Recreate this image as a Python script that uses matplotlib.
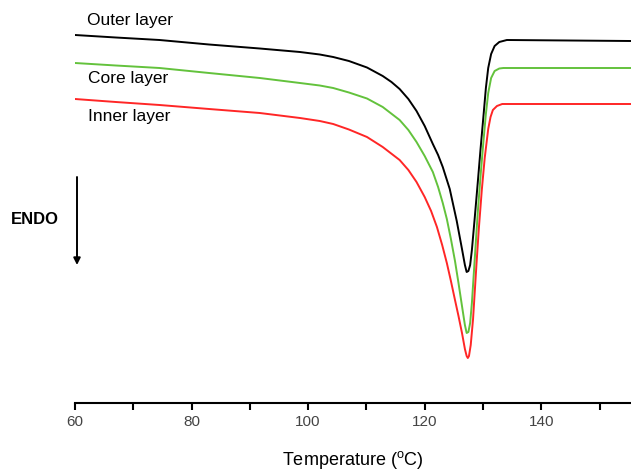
import matplotlib
matplotlib.use("Agg")
import matplotlib.pyplot as plt
from matplotlib.ticker import MultipleLocator

plt.rcParams['font.family'] = ['Liberation Sans', 'DejaVu Sans']

# Temperature (deg C) and heat flow (a.u.)
t_outer = [60.0, 67.0, 74.5, 83.0, 91.7, 98.6, 102.0, 104.3, 107.0, 110.1, 112.8,
           114.3, 115.7, 117.2, 118.6, 120.0, 121.4, 122.3, 123.1, 124.3, 125.5,
           126.4, 126.9, 127.2, 127.5, 127.8, 128.1, 128.6, 129.1, 129.6, 130.1,
           130.5, 130.9, 131.4, 132.0, 132.8, 134.1, 155.4]
v_outer = [36.8, 36.55, 36.3, 35.85, 35.45, 35.1, 34.85, 34.6, 34.2, 33.55, 32.7,
           32.1, 31.4, 30.4, 29.2, 27.7, 25.9, 24.8, 23.6, 21.4, 18.2,
           15.4, 13.8, 13.1, 13.2, 13.8, 15.3, 18.6, 22.0, 25.5, 28.8,
           31.5, 33.5, 34.9, 35.7, 36.1, 36.3, 36.2]

t_core = [60.0, 67.0, 74.5, 83.0, 91.7, 98.6, 102.0, 104.3, 107.0, 110.1, 112.8,
          115.7, 117.2, 118.6, 120.0, 121.4, 122.3, 123.1, 123.8, 124.5, 125.2,
          125.8, 126.4, 126.9, 127.2, 127.5, 127.8, 128.1, 128.6, 129.1, 129.6,
          130.1, 130.5, 130.9, 131.4, 132.0, 132.8, 133.5, 155.4]
v_core = [34.0, 33.75, 33.5, 33.0, 32.5, 32.0, 31.75, 31.5, 31.05, 30.45, 29.6,
          28.3, 27.3, 26.1, 24.7, 23.1, 21.6, 20.0, 18.4, 16.4, 14.2,
          12.0, 9.7, 7.8, 7.0, 7.1, 8.0, 10.0, 14.5, 19.0, 22.8,
          26.3, 28.9, 31.0, 32.5, 33.2, 33.45, 33.5, 33.5]

t_inner = [60.0, 67.0, 74.5, 83.0, 91.7, 98.6, 102.0, 104.3, 107.0, 110.1, 112.8,
           115.7, 117.2, 118.6, 120.0, 121.1, 122.1, 123.0, 123.8, 124.5, 125.2,
           125.8, 126.4, 126.9, 127.2, 127.4, 127.6, 127.9, 128.3, 128.9, 129.3,
           129.8, 130.3, 130.9, 131.3, 131.7, 132.4, 133.3, 155.4]
v_inner = [30.4, 30.1, 29.8, 29.4, 29.0, 28.5, 28.2, 27.9, 27.35, 26.6, 25.6,
           24.3, 23.3, 22.1, 20.6, 19.2, 17.6, 15.8, 14.0, 12.2, 10.3,
           8.7, 7.0, 5.4, 4.7, 4.5, 4.7, 5.8, 8.4, 14.0, 17.5,
           21.3, 24.5, 27.4, 28.6, 29.3, 29.7, 29.9, 29.9]

series_labels = ["Outer layer", "Core layer", "Inner layer"]
x_ticks = [60, 80, 100, 120, 140]

fig = plt.figure(figsize=(6.31, 4.70), dpi=100)
ax = fig.add_axes([75 / 631, 67 / 470, 1 - 75 / 631, 1 - 67 / 470])

ax.plot(t_outer, v_outer, color='black', lw=1.4)
ax.plot(t_core, v_core, color='#63c23c', lw=1.4)
ax.plot(t_inner, v_inner, color='#ff2626', lw=1.4)

ax.set_xlim(60, 155.4)
ax.set_ylim(0, 40.3)

for s in ['left', 'right', 'top']:
    ax.spines[s].set_visible(False)
ax.spines['bottom'].set_linewidth(1.5)
ax.set_yticks([])
ax.set_xticks(x_ticks)
ax.xaxis.set_minor_locator(MultipleLocator(10))
ax.tick_params(axis='x', which='both', direction='out', length=5, width=1.5,
               labelsize=11, labelcolor='#444444', pad=4)
ax.set_xlabel("Temperature ($^\\mathregular{o}$C)", fontsize=13, labelpad=14)

fig.text(87 / 631, 1 - 20 / 470, series_labels[0], fontsize=12.5, va='center', ha='left')
fig.text(88 / 631, 1 - 79 / 470, series_labels[1], fontsize=12.5, va='center', ha='left')
fig.text(88 / 631, 1 - 117 / 470, series_labels[2], fontsize=12.5, va='center', ha='left')

fig.text(11 / 631, 1 - 220 / 470, "ENDO", fontsize=12, fontweight='bold', va='center', ha='left')
ax.annotate("", xy=(77 / 631, 1 - 265 / 470), xytext=(77 / 631, 1 - 177 / 470),
            xycoords='figure fraction', textcoords='figure fraction',
            arrowprops=dict(arrowstyle='-|>', color='black', lw=1.4,
                            mutation_scale=10, shrinkA=0, shrinkB=0))

fig.savefig("out.png", dpi=100)
